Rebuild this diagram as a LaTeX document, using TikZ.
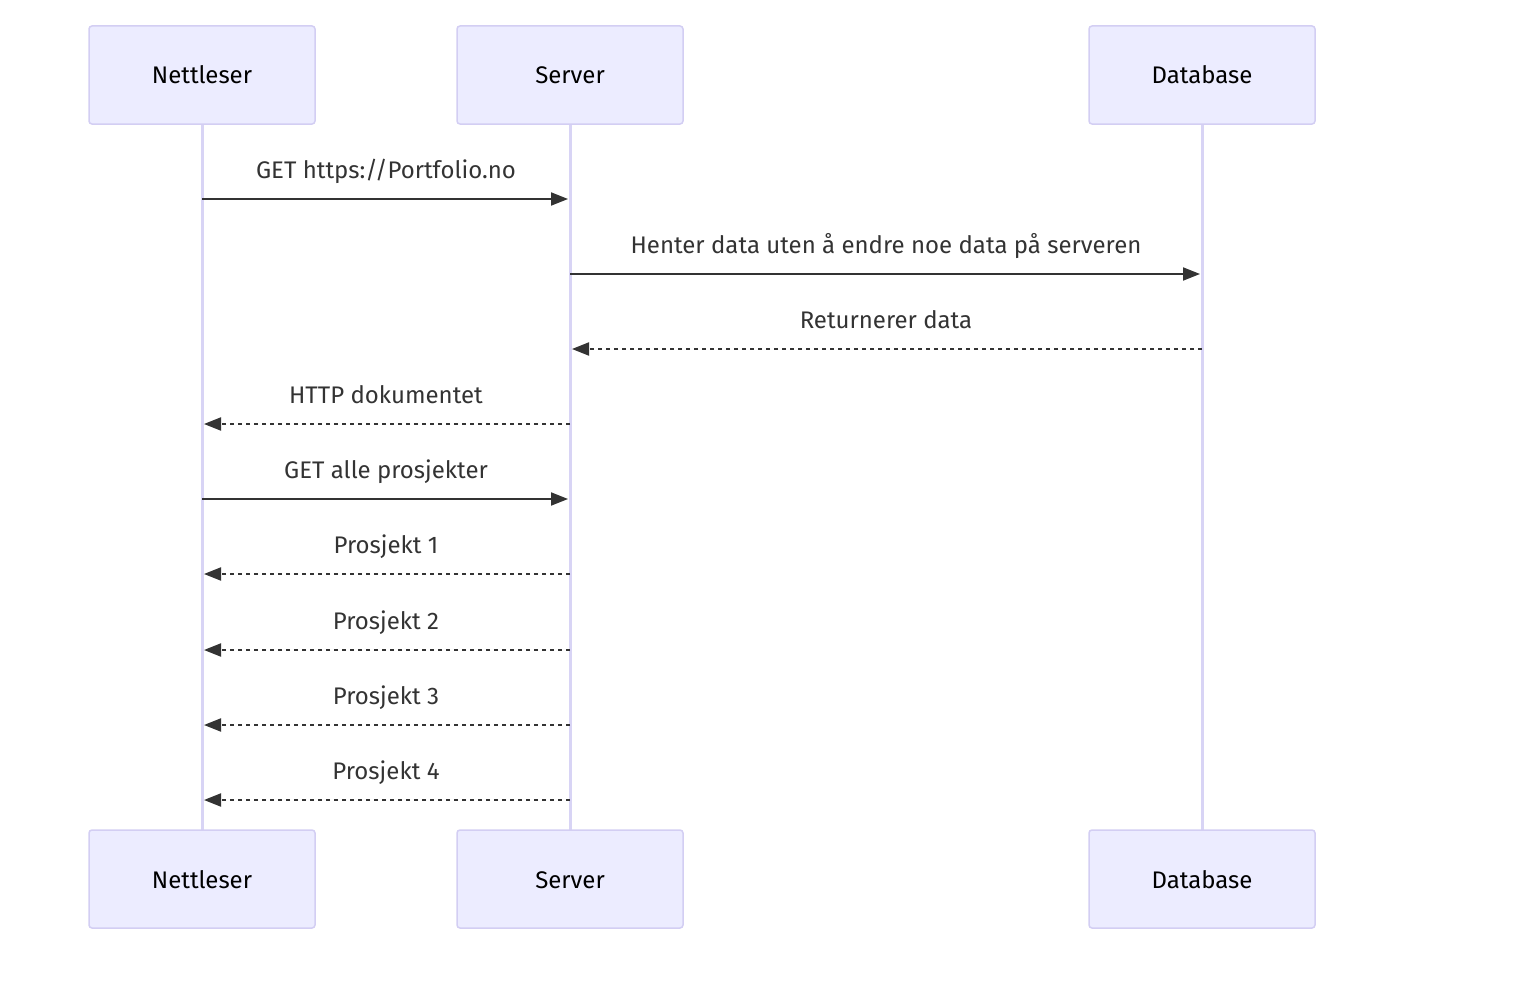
\documentclass[tikz,border=0pt]{standalone}
\usepackage{fontspec}
\setmainfont{Fira Sans}
\usetikzlibrary{arrows.meta}
\definecolor{actfill}{HTML}{ECECFF}
\definecolor{actline}{HTML}{D3CEF3}
\definecolor{lifeline}{HTML}{D8D4F5}
\definecolor{msg}{HTML}{333333}
\begin{document}
\begin{tikzpicture}[x=1pt,y=-1pt,
  actor/.style={draw=actline, line width=1.5pt, fill=actfill, rounded corners=3pt,
    minimum width=226pt, minimum height=98pt, inner sep=0pt,
    text height=20pt, text depth=2pt,
    font=\fontsize{24}{28}\selectfont, text=black},
  life/.style={draw=lifeline, line width=3pt},
  lbl/.style={font=\fontsize{24}{28}\selectfont, text=msg, inner sep=0pt,
    text height=20pt, text depth=2pt},
  sync/.style={draw=msg, line width=2pt, -{Triangle[length=17pt,width=13pt]}, shorten >=2pt},
  reply/.style={sync, dash pattern=on 4.5pt off 3.5pt}]
\useasboundingbox (0,0) rectangle (1516,990);
% lifelines
\coordinate (ntl) at (202,124);
\coordinate (nbl) at (202,830);
\coordinate (stl) at (570,124);
\coordinate (sbl) at (570,830);
\coordinate (dtl) at (1202,124);
\coordinate (dbl) at (1202,830);
\draw[life] (ntl) -- (nbl);
\draw[life] (stl) -- (sbl);
\draw[life] (dtl) -- (dbl);
% actors
\node[actor] (nt) at (202,75) {Nettleser};
\node[actor] (st) at (570,75) {Server};
\node[actor] (dt) at (1202,75) {Database};
\node[actor] (nb) at (202,879) {Nettleser};
\node[actor] (sb) at (570,879) {Server};
\node[actor] (db) at (1202,879) {Database};
% message anchor points
\foreach \i/\y in {1/199,2/274,3/349,4/424,5/499,6/574,7/650,8/725,9/800}{
  \coordinate (n\i) at (202,\y);
  \coordinate (s\i) at (570,\y);
  \coordinate (d\i) at (1202,\y);
}
\draw[sync] (n1) -- (s1) node[lbl, midway, yshift=30pt] {GET https://Portfolio.no};
\draw[sync] (s2) -- (d2) node[lbl, midway, yshift=30pt] {Henter data uten å endre noe data på serveren};
\draw[reply] (d3) -- (s3) node[lbl, midway, yshift=30pt] {Returnerer data};
\draw[reply] (s4) -- (n4) node[lbl, midway, yshift=30pt] {HTTP dokumentet};
\draw[sync] (n5) -- (s5) node[lbl, midway, yshift=30pt] {GET alle prosjekter};
\draw[reply] (s6) -- (n6) node[lbl, midway, yshift=30pt] {Prosjekt 1};
\draw[reply] (s7) -- (n7) node[lbl, midway, yshift=30pt] {Prosjekt 2};
\draw[reply] (s8) -- (n8) node[lbl, midway, yshift=30pt] {Prosjekt 3};
\draw[reply] (s9) -- (n9) node[lbl, midway, yshift=30pt] {Prosjekt 4};
\end{tikzpicture}
\end{document}
